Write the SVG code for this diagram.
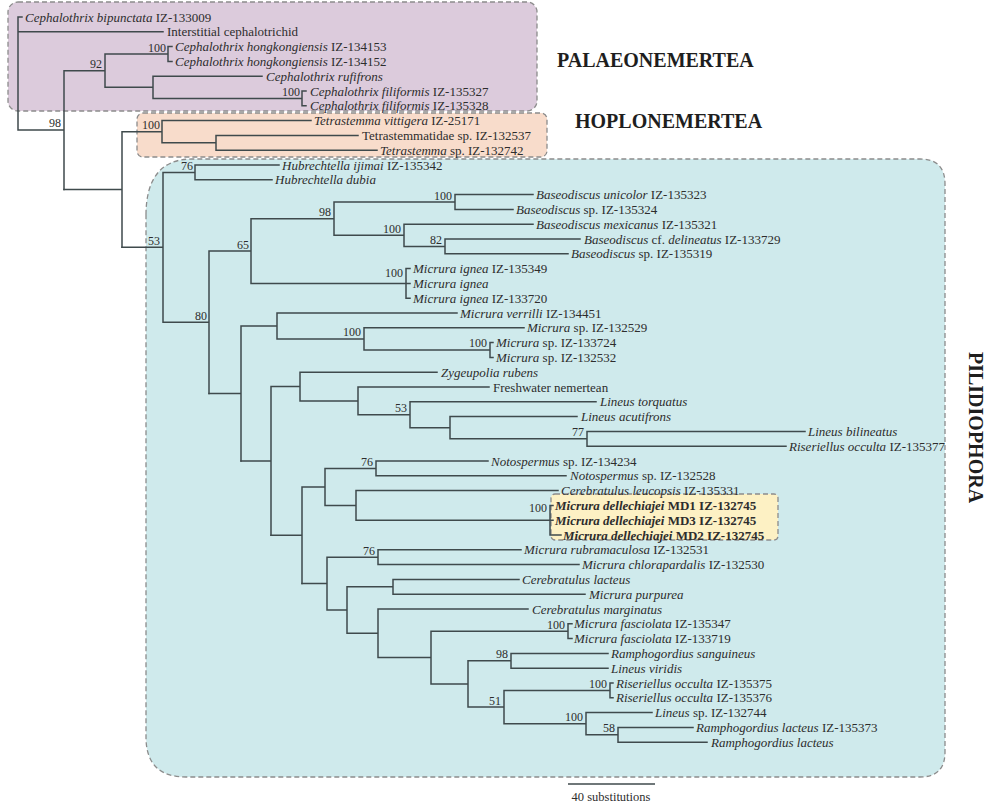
<svg xmlns="http://www.w3.org/2000/svg" width="993" height="807" viewBox="0 0 993 807">
<style>
text{font-family:"Liberation Serif","Times New Roman",serif;fill:#2d2d2d}
.lf{font-size:13px}
.i{font-style:italic}
.b{font-weight:bold}
.bs{font-size:12px;text-anchor:end}
.grp{font-size:20px;font-weight:bold;fill:#1e1e1e}
.box{stroke:#8c8c8c;stroke-width:1.3;stroke-dasharray:5 3}
.tree{fill:none;stroke:#3f4a4c;stroke-width:1.5;stroke-linecap:square}
</style>
<rect width="993" height="807" fill="#ffffff"/>
<g id="clade-boxes">
<rect id="box-palaeonemertea" class="box" x="8" y="2" width="529" height="109" rx="10" fill="#dccbdc"/>
<rect id="box-hoplonemertea" class="box" x="137" y="113" width="410" height="44" rx="6" fill="#f8dccb"/>
<path id="box-pilidiophora" class="box" fill="#cfeaec" d="M146 215 C146 180 160 159 192 159 L920 159 Q945 159 945 184 L945 752 Q945 777 920 777 L186 777 Q146 777 146 737 Z"/>
<rect id="box-dellechiajei" class="box" x="551" y="494" width="227" height="46" rx="4" fill="#fdf1c4"/>
</g>
<g id="connectors" class="tree">
<path d="M18 17V130.1M18 17H22M18 31.8H163M18 130.1H64M64 70.65V189.5M64 70.65H105M105 54V87.3M105 54H168M168 46.6V61.4M168 46.6H172M168 61.4H172M105 87.3H153M153 76.2V98.4M153 76.2H262M153 98.4H302M302 91V105.8M302 91H306M302 105.8H306"/>
<path d="M64 189.5H122M122 131.7V247.3M122 131.7H162M162 120.6V142.8M162 120.6H311M162 142.8H216M216 135.4V150.2M216 135.4H358M216 150.2H377"/>
<path d="M122 247.3H163M163 172.4V322.2M163 172.4H195M195 165V179.8M195 165H279M195 179.8H272M163 322.2H209M209 251V393.4M209 251H251M251 218.65V283.4M251 218.65H334M334 202V235.3M334 202H455M455 194.6V209.4M455 194.6H533M455 209.4H513M334 235.3H404M404 224.2V246.4M404 224.2H533M404 246.4H445M445 239V253.8M445 239H580M445 253.8H568M251 283.4H406M406 268.6V298.2M406 268.6H410M406 283.4H410M406 298.2H410"/>
<path d="M209 393.4H241M241 325.95V460.9M241 325.95H277M277 313V338.9M277 313H457M277 338.9H364M364 327.8V350M364 327.8H524M364 350H490M490 342.6V357.4M490 342.6H493M490 357.4H493"/>
<path d="M241 460.9H271M271 386.55V535.25M271 386.55H300M300 372.2V400.9M300 372.2H437M300 400.9H358M358 387V414.75M358 387H489M358 414.75H410M410 401.8V427.7M410 401.8H596M410 427.7H450M450 416.6V438.8M450 416.6H577M450 438.8H587M587 431.4V446.2M587 431.4H805M587 446.2H786"/>
<path d="M271 535.25H302M302 486.9V583.6M302 486.9H325M325 468.4V505.4M325 468.4H376M376 461V475.8M376 461H488M376 475.8H566M325 505.4H356M356 490.6V520.2M356 490.6H558M356 520.2H550M550 505.4V535M550 505.4H553M550 520.2H553M550 535H561"/>
<path d="M302 583.6H327M327 557.2V610.05M327 557.2H378M378 549.8V564.6M378 549.8H521M378 564.6H579M327 610.05H347M347 586.8V633.3M347 586.8H393M393 579.4V594.2M393 579.4H519M393 594.2H585M347 633.3H378M378 609V657.55M378 609H528M378 657.55H431M431 631.2V683.9M431 631.2H568M568 623.8V638.6M568 623.8H572M568 638.6H572M431 683.9H468M468 660.8V707.05M468 660.8H511M511 653.4V668.2M511 653.4H608M511 668.2H608M468 707.05H504M504 690.4V723.7M504 690.4H610M610 683V697.8M610 683H613M610 697.8H613M504 723.7H586M586 712.6V734.8M586 712.6H652M586 734.8H618M618 727.4V742.2M618 727.4H693M618 742.2H707"/>
</g>
<g id="support-values">
<text class="bs" x="61" y="127">98</text>
<text class="bs" x="102" y="68">92</text>
<text class="bs" x="166" y="52">100</text>
<text class="bs" x="300" y="96">100</text>
<text class="bs" x="160" y="129">100</text>
<text class="bs" x="160" y="245">53</text>
<text class="bs" x="193" y="170">76</text>
<text class="bs" x="207" y="320">80</text>
<text class="bs" x="249" y="249">65</text>
<text class="bs" x="331" y="216">98</text>
<text class="bs" x="452" y="200">100</text>
<text class="bs" x="401" y="233">100</text>
<text class="bs" x="442" y="244">82</text>
<text class="bs" x="403" y="277">100</text>
<text class="bs" x="361" y="336">100</text>
<text class="bs" x="487" y="347">100</text>
<text class="bs" x="407" y="412">53</text>
<text class="bs" x="584" y="436">77</text>
<text class="bs" x="373" y="466">76</text>
<text class="bs" x="547" y="512">100</text>
<text class="bs" x="375" y="555">76</text>
<text class="bs" x="565" y="629">100</text>
<text class="bs" x="508" y="658">98</text>
<text class="bs" x="501" y="705">51</text>
<text class="bs" x="607" y="688">100</text>
<text class="bs" x="583" y="721">100</text>
<text class="bs" x="615" y="732">58</text>
</g>
<g id="leaf-c-bipunctata"><text class="lf" x="25" y="21.5"><tspan class="i">Cephalothrix bipunctata</tspan> IZ-133009</text></g>
<g id="leaf-interstitial"><text class="lf" x="167" y="36.3">Interstitial cephalotrichid</text></g>
<g id="leaf-c-hongkongiensis-134153"><text class="lf" x="175" y="51.1"><tspan class="i">Cephalothrix hongkongiensis</tspan> IZ-134153</text></g>
<g id="leaf-c-hongkongiensis-134152"><text class="lf" x="175" y="65.9"><tspan class="i">Cephalothrix hongkongiensis</tspan> IZ-134152</text></g>
<g id="leaf-c-rufifrons"><text class="lf i" x="266" y="80.7">Cephalothrix rufifrons</text></g>
<g id="leaf-c-filiformis-135327"><text class="lf" x="310" y="95.5"><tspan class="i">Cephalothrix filiformis</tspan> IZ-135327</text></g>
<g id="leaf-c-filiformis-135328"><text class="lf" x="310" y="110.3"><tspan class="i">Cephalothrix filiformis</tspan> IZ-135328</text></g>
<g id="leaf-t-vittigera"><text class="lf" x="314" y="125.1"><tspan class="i">Tetrastemma vittigera</tspan> IZ-25171</text></g>
<g id="leaf-tetrastemmatidae"><text class="lf" x="362" y="139.9">Tetrastemmatidae sp. IZ-132537</text></g>
<g id="leaf-tetrastemma-sp"><text class="lf" x="380" y="154.7"><tspan class="i">Tetrastemma</tspan> sp. IZ-132742</text></g>
<g id="leaf-h-ijimai"><text class="lf" x="282" y="169.5"><tspan class="i">Hubrechtella ijimai</tspan> IZ-135342</text></g>
<g id="leaf-h-dubia"><text class="lf i" x="275" y="184.3">Hubrechtella dubia</text></g>
<g id="leaf-b-unicolor"><text class="lf" x="536" y="199.1"><tspan class="i">Baseodiscus unicolor</tspan> IZ-135323</text></g>
<g id="leaf-b-sp-135324"><text class="lf" x="516" y="213.9"><tspan class="i">Baseodiscus</tspan> sp. IZ-135324</text></g>
<g id="leaf-b-mexicanus"><text class="lf" x="536" y="228.7"><tspan class="i">Baseodiscus mexicanus</tspan> IZ-135321</text></g>
<g id="leaf-b-delineatus"><text class="lf" x="584" y="243.5"><tspan class="i">Baseodiscus</tspan> cf. <tspan class="i">delineatus</tspan> IZ-133729</text></g>
<g id="leaf-b-sp-135319"><text class="lf" x="571" y="258.3"><tspan class="i">Baseodiscus</tspan> sp. IZ-135319</text></g>
<g id="leaf-m-ignea-135349"><text class="lf" x="413" y="273.1"><tspan class="i">Micrura ignea</tspan> IZ-135349</text></g>
<g id="leaf-m-ignea"><text class="lf i" x="413" y="287.9">Micrura ignea</text></g>
<g id="leaf-m-ignea-133720"><text class="lf" x="413" y="302.7"><tspan class="i">Micrura ignea</tspan> IZ-133720</text></g>
<g id="leaf-m-verrilli"><text class="lf" x="460" y="317.5"><tspan class="i">Micrura verrilli</tspan> IZ-134451</text></g>
<g id="leaf-m-sp-132529"><text class="lf" x="527" y="332.3"><tspan class="i">Micrura</tspan> sp. IZ-132529</text></g>
<g id="leaf-m-sp-133724"><text class="lf" x="496" y="347.1"><tspan class="i">Micrura</tspan> sp. IZ-133724</text></g>
<g id="leaf-m-sp-132532"><text class="lf" x="496" y="361.9"><tspan class="i">Micrura</tspan> sp. IZ-132532</text></g>
<g id="leaf-z-rubens"><text class="lf i" x="441" y="376.7">Zygeupolia rubens</text></g>
<g id="leaf-freshwater"><text class="lf" x="493" y="391.5">Freshwater nemertean</text></g>
<g id="leaf-l-torquatus"><text class="lf i" x="600" y="406.3">Lineus torquatus</text></g>
<g id="leaf-l-acutifrons"><text class="lf i" x="581" y="421.1">Lineus acutifrons</text></g>
<g id="leaf-l-bilineatus"><text class="lf i" x="808" y="435.9">Lineus bilineatus</text></g>
<g id="leaf-r-occulta-135377"><text class="lf" x="789" y="450.7"><tspan class="i">Riseriellus occulta</tspan> IZ-135377</text></g>
<g id="leaf-notospermus-134234"><text class="lf" x="491" y="465.5"><tspan class="i">Notospermus</tspan> sp. IZ-134234</text></g>
<g id="leaf-notospermus-132528"><text class="lf" x="570" y="480.3"><tspan class="i">Notospermus</tspan> sp. IZ-132528</text></g>
<g id="leaf-c-leucopsis"><text class="lf" x="561" y="495.1"><tspan class="i">Cerebratulus leucopsis</tspan> IZ-135331</text></g>
<g id="leaf-md1"><text class="lf b" x="555" y="509.9"><tspan class="i">Micrura dellechiajei</tspan> MD1 IZ-132745</text></g>
<g id="leaf-md3"><text class="lf b" x="555" y="524.7"><tspan class="i">Micrura dellechiajei</tspan> MD3 IZ-132745</text></g>
<g id="leaf-md2"><text class="lf b" x="563" y="539.5"><tspan class="i">Micrura dellechiajei</tspan> MD2 IZ-132745</text></g>
<g id="leaf-m-rubramaculosa"><text class="lf" x="524" y="554.3"><tspan class="i">Micrura rubramaculosa</tspan> IZ-132531</text></g>
<g id="leaf-m-chlorapardalis"><text class="lf" x="582" y="569.1"><tspan class="i">Micrura chlorapardalis</tspan> IZ-132530</text></g>
<g id="leaf-c-lacteus"><text class="lf i" x="522" y="583.9">Cerebratulus lacteus</text></g>
<g id="leaf-m-purpurea"><text class="lf i" x="589" y="598.7">Micrura purpurea</text></g>
<g id="leaf-c-marginatus"><text class="lf i" x="532" y="613.5">Cerebratulus marginatus</text></g>
<g id="leaf-m-fasciolata-135347"><text class="lf" x="574" y="628.3"><tspan class="i">Micrura fasciolata</tspan> IZ-135347</text></g>
<g id="leaf-m-fasciolata-133719"><text class="lf" x="574" y="643.1"><tspan class="i">Micrura fasciolata</tspan> IZ-133719</text></g>
<g id="leaf-r-sanguineus"><text class="lf i" x="611" y="657.9">Ramphogordius sanguineus</text></g>
<g id="leaf-l-viridis"><text class="lf i" x="611" y="672.7">Lineus viridis</text></g>
<g id="leaf-r-occulta-135375"><text class="lf" x="616" y="687.5"><tspan class="i">Riseriellus occulta</tspan> IZ-135375</text></g>
<g id="leaf-r-occulta-135376"><text class="lf" x="616" y="702.3"><tspan class="i">Riseriellus occulta</tspan> IZ-135376</text></g>
<g id="leaf-lineus-sp"><text class="lf" x="655" y="717.1"><tspan class="i">Lineus</tspan> sp. IZ-132744</text></g>
<g id="leaf-r-lacteus-135373"><text class="lf" x="696" y="731.9"><tspan class="i">Ramphogordius lacteus</tspan> IZ-135373</text></g>
<g id="leaf-r-lacteus"><text class="lf i" x="711" y="746.7">Ramphogordius lacteus</text></g>
<g id="clade-labels">
<text class="grp" x="557" y="67">PALAEONEMERTEA</text>
<text class="grp" x="575" y="128">HOPLONEMERTEA</text>
<text class="grp" transform="translate(969 352) rotate(90)">PILIDIOPHORA</text>
</g>
<g id="scale-bar">
<path d="M568 784H655" stroke="#3f4a4c" stroke-width="1.5" fill="none"/>
<text x="611" y="801" font-size="12.5" text-anchor="middle">40 substitutions</text>
</g>
</svg>
